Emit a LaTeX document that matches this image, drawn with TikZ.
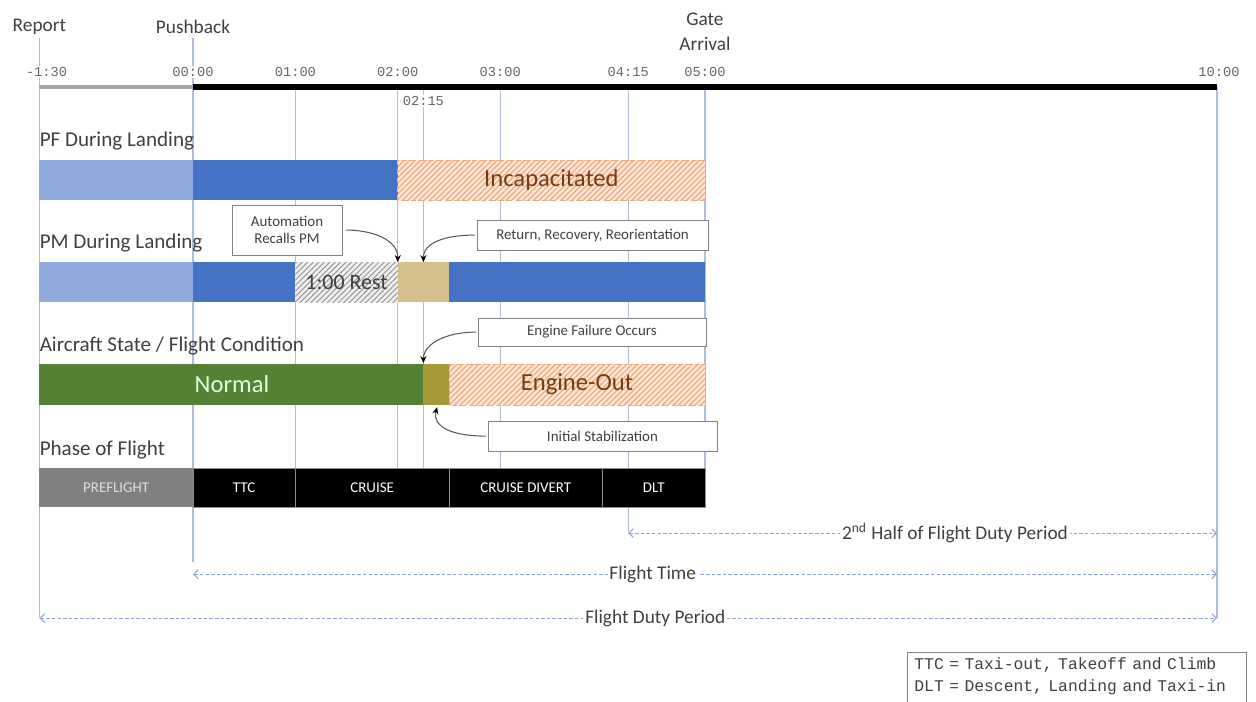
\documentclass[tikz,border=0pt]{standalone}
\usepackage{fontspec}
\setmainfont{Carlito}
\setmonofont{Liberation Mono}
\usetikzlibrary{arrows.meta,patterns.meta}
\definecolor{paleblue}{HTML}{8FAADC}
\definecolor{barblue}{HTML}{4472C4}
\definecolor{okgreen}{HTML}{548235}
\definecolor{stabolive}{HTML}{A6993A}
\definecolor{recovertan}{HTML}{D5BF8B}
\definecolor{peach}{HTML}{FCE8DA}
\definecolor{hatchorange}{HTML}{F2A878}
\definecolor{rustbrown}{HTML}{7B3A12}
\definecolor{gridblue}{HTML}{B0BEDD}
\definecolor{spanblue}{HTML}{8FA6D6}
\definecolor{textgray}{HTML}{404040}

\begin{document}
\begin{tikzpicture}[x=2.048cm,y=-0.02cm,
  gridline/.style={gridblue,line width=0.6pt},
  ticklabel/.style={font=\ttfamily\fontsize{7.8}{9}\selectfont,text=black!60,fill=white,inner sep=0.5pt},
  rowlabel/.style={anchor=west,inner sep=0pt,text=textgray,font=\fontsize{12}{14}\selectfont},
  toplabel/.style={text=textgray,align=center,font=\fontsize{11}{14.5}\selectfont},
  barlabel/.style={font=\fontsize{14}{16}\selectfont},
  hatched/.style={fill=peach,draw=hatchorange,densely dashed,line width=0.4pt,
    postaction={pattern={Lines[angle=45,distance=2.2pt,line width=0.7pt]},pattern color=hatchorange}},
  resthatch/.style={fill=black!6,
    postaction={pattern={Lines[angle=45,distance=2.2pt,line width=0.6pt]},pattern color=black!40}},
  callout/.style={draw=black!50,fill=white,text=textgray,font=\fontsize{8.5}{10}\selectfont,
    align=center,inner sep=1pt,line width=0.5pt},
  pointer/.style={black!65,line width=0.6pt,-{Stealth[length=4pt,width=3.5pt,black]}},
  phasebox/.style={fill=black,draw=black!45,line width=0.4pt},
  phaselabel/.style={text=white,font=\fontsize{8.5}{10}\selectfont},
  span/.style={spanblue,line width=0.6pt,dash pattern=on 2pt off 1.2pt,
    {Straight Barb[length=2.5pt,width=5pt]}-{Straight Barb[length=2.5pt,width=5pt]}},
  spanlabel/.style={fill=white,inner sep=1pt,text=textgray,font=\fontsize{11}{13}\selectfont}]
\clip (-1.8848,0) rectangle (10.3809,701);

\foreach \t/\top/\bot in {-1.5/38/618,0/38/562,1/87/468,2/87/468,2.25/87/468,3/87/468,4.25/87/533,5/87/468,10/87/618}
  \draw[gridline] (\t,\top) -- (\t,\bot);

\node[toplabel] (report) at (-1.5,27) {Report};
\node[toplabel] (pushback) at (0,27) {Pushback};
\node[toplabel] (gate) at (5,32) {Gate\\Arrival};
\foreach \t/\txt in {-1.43/-1:30,0/00:00,1/01:00,2/02:00,3/03:00,4.25/04:15,5/05:00,10.02/10:00}
  \node[ticklabel] at (\t,72) {\txt};
\draw[black!35,line width=2.5pt] (-1.5,87) -- (0,87);
\draw[black,line width=3pt] (0,87) -- (10,87);
\node[ticklabel] (midtick) at (2.25,101) {02:15};

\node[rowlabel] (pflabel) at (-1.5,141) {PF During Landing};
\fill[paleblue] (-1.5,160) rectangle (0,200);
\fill[barblue] (0,160) rectangle (2,200);
\path[hatched] (2,160) rectangle (5,200);
\node[barlabel,text=rustbrown] (incap) at (3.5,180) {Incapacitated};

\node[rowlabel] (pmlabel) at (-1.5,243) {PM During Landing};
\fill[paleblue] (-1.5,262) rectangle (0,302);
\fill[barblue] (0,262) rectangle (1,302);
\path[resthatch] (1,262) rectangle (2,302);
\fill[recovertan] (2,262) rectangle (2.5,302);
\fill[barblue] (2.5,262) rectangle (5,302);
\node[font=\fontsize{12.5}{14}\selectfont,text=textgray] (rest) at (1.5,282) {1:00 Rest};

\node[rowlabel] (statelabel) at (-1.5,346) {Aircraft State / Flight Condition};
\fill[okgreen] (-1.5,364) rectangle (2.25,405);
\fill[stabolive] (2.25,364) rectangle (2.5,405);
\path[hatched] (2.5,364) rectangle (5,405);
\node[barlabel,text=green!10] (normal) at (0.38,384) {Normal};
\node[barlabel,text=rustbrown] (engout) at (3.75,384) {Engine-Out};

\node[callout,minimum width=2.2cm,minimum height=1cm] (recallbox) at (0.918,230) {Automation\\Recalls PM};
\node[callout,minimum width=4.62cm,minimum height=0.6cm] (returnbox) at (3.901,235) {Return, Recovery, Reorientation};
\node[callout,minimum width=4.56cm,minimum height=0.56cm] (failbox) at (3.896,332) {Engine Failure Occurs};
\node[callout,minimum width=4.58cm,minimum height=0.6cm] (stabbox) at (3.999,436) {Initial Stabilization};
\coordinate (recallpt) at (2,262);
\coordinate (returnpt) at (2.25,262);
\coordinate (failpt) at (2.25,363);
\coordinate (stabpt) at (2.383,407);
\draw[pointer,shorten <=2pt] (recallbox.east) .. controls +(0.6cm,0) and +(0,0.45cm) .. (recallpt);
\draw[pointer,shorten <=1pt] (returnbox.west) .. controls +(-0.6cm,0) and +(0,0.4cm) .. (returnpt);
\draw[pointer,shorten <=1pt] (failbox.west) .. controls +(-0.6cm,0) and +(0,0.4cm) .. (failpt);
\draw[pointer,shorten <=1pt] (stabbox.west) .. controls +(-0.7cm,0) and +(-0.1cm,-0.4cm) .. (stabpt);

\node[rowlabel] (phaselabel) at (-1.5,450) {Phase of Flight};
\fill[black!50] (-1.5,468) rectangle (0,507);
\node[phaselabel,text=black!12] (preflight) at (-0.75,487.5) {PREFLIGHT};
\foreach \a/\b/\txt/\nm in {0/1/TTC/ttc,1/2.5/CRUISE/cruise,2.5/4/CRUISE DIVERT/divert,4/5/DLT/dlt}{
  \path[phasebox] (\a,468) rectangle (\b,507);
  \node[phaselabel] (\nm) at ({(\a+\b)/2},487.5) {\txt};
}

\coordinate (halfL) at (4.25,533);
\coordinate (halfR) at (10,533);
\coordinate (flightL) at (0,574);
\coordinate (flightR) at (10,574);
\coordinate (dutyL) at (-1.5,618);
\coordinate (dutyR) at (10,618);
\draw[span] (halfL) -- node[spanlabel,pos=0.555] (halflabel) {2\textsuperscript{nd} Half of Flight Duty Period} (halfR);
\draw[span] (flightL) -- node[spanlabel,pos=0.449] (flightlabel) {Flight Time} (flightR);
\draw[span] (dutyL) -- node[spanlabel,pos=0.523] (dutylabel) {Flight Duty Period} (dutyR);

\node[anchor=north west,align=left,text=textgray,
  font=\ttfamily\fontsize{9.3}{12.5}\selectfont,minimum width=6.74cm,text width=6.5cm,
  inner xsep=4pt,inner ysep=3pt] (legend) at (6.973,652)
  {TTC = Taxi-out, Takeoff and Climb\\DLT = Descent, Landing and Taxi-in};
\draw[black!50,line width=0.5pt] (legend.north west) rectangle ([yshift=-10pt]legend.south east);
\end{tikzpicture}
\end{document}
